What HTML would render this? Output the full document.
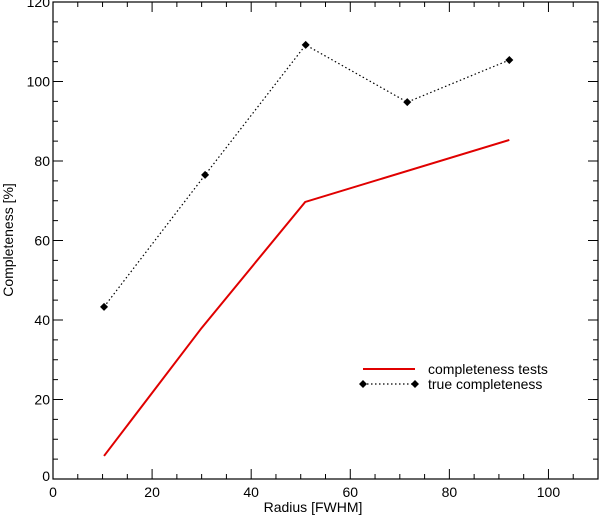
<!DOCTYPE html>
<html><head><meta charset="utf-8"><style>
body{margin:0;background:#fff}
svg text{font-family:"Liberation Sans",sans-serif;font-size:14px;fill:#000}
</style></head><body>
<svg width="600" height="517">
<g id="axes"></g><g id="marks"></g>
<g>
<line x1="363" y1="369" x2="415" y2="369" stroke="#e00000" stroke-width="2"/>
<text x="428" y="374">completeness tests</text>
<line x1="363" y1="384" x2="415" y2="384" stroke="#000" stroke-width="1.2" stroke-dasharray="1.5,2.5"/>
<path d="M363,380 l4,4 l-4,4 l-4,-4z M415,380 l4,4 l-4,4 l-4,-4z"/>
<text x="428" y="389">true completeness</text>
</g>
<text x="313" y="512" text-anchor="middle">Radius [FWHM]</text>
<text transform="translate(13,240) rotate(-90)" text-anchor="middle">Completeness [%]</text>
</svg>
<script>
const redX=[10.3,30,50.9,92.1];
const redY=[5.8,38,69.7,85.3];
const blkX=[10.3,30.7,51,71.5,92.1];
const blkY=[43.3,76.5,109.2,94.8,105.4];
const xTicks=[0,20,40,60,80,100];
const yTicks=[0,20,40,60,80,100,120];
const L=53,R=598,T=2,B=479;
const sx=v=>L+(v/110)*(R-L), sy=v=>B-(v/120)*(B-T);
const NS="http://www.w3.org/2000/svg";
const ax=document.getElementById('axes'), mk=document.getElementById('marks');
function mkEl(t,a,p){const e=document.createElementNS(NS,t);for(const k in a)e.setAttribute(k,a[k]);p.appendChild(e);return e;}
const fr=mkEl('rect',{x:L,y:T,width:R-L,height:B-T,fill:'none',stroke:'#000','stroke-width':1.2},ax);


for(let v=0;v<=110;v+=5){const x=sx(v),len=v%20==0?10:5;
mkEl('line',{x1:x,x2:x,y1:B,y2:B-len,stroke:'#000'},ax);mkEl('line',{x1:x,x2:x,y1:T,y2:T+len,stroke:'#000'},ax);}
for(let v=0;v<=120;v+=5){const y=sy(v),len=v%20==0?10:5;
mkEl('line',{x1:L,x2:L+len,y1:y,y2:y,stroke:'#000'},ax);mkEl('line',{x1:R,x2:R-len,y1:y,y2:y,stroke:'#000'},ax);}
xTicks.forEach(v=>{const t=mkEl('text',{x:sx(v),y:497,'text-anchor':'middle'},ax);t.textContent=v;

});
yTicks.forEach(v=>{const t=mkEl('text',{x:L-3,y:Math.min(sy(v)+5,481),'text-anchor':'end'},ax);t.textContent=v;

});
const rl=mkEl('polyline',{points:redX.map((x,i)=>sx(x)+','+sy(redY[i])).join(' '),fill:'none',stroke:'#e00000','stroke-width':2},mk);


const bl=mkEl('polyline',{points:blkX.map((x,i)=>sx(x)+','+sy(blkY[i])).join(' '),fill:'none',stroke:'#000','stroke-width':1.2,'stroke-dasharray':'1.5,2.5'},mk);


blkX.forEach((x,i)=>{const X=sx(x),Y=sy(blkY[i]);
const d=mkEl('path',{d:`M${X},${Y-4} l4,4 l-4,4 l-4,-4z`},mk);

});
</script>
</body></html>
